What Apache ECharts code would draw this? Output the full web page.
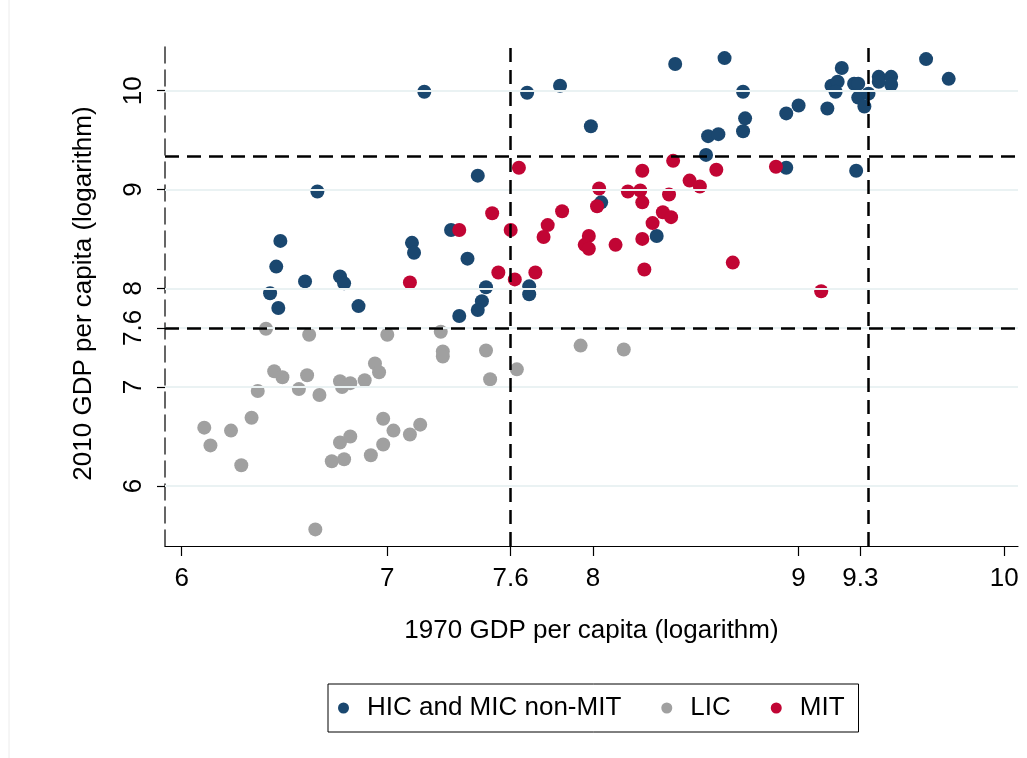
<!DOCTYPE html>
<html>
<head>
<meta charset="utf-8">
<script src="https://cdn.jsdelivr.net/npm/echarts@6/dist/echarts.min.js"></script>
<style>
  html, body { margin: 0; padding: 0; background: #fff; }
  #chart { width: 1027px; height: 758px; }
</style>
</head>
<body>
<div id="chart"></div>
<script>
// [1970 log GDP pc, 2010 log GDP pc]
var hicPoints = [
  [7.18, 9.99], [6.66, 8.98], [7.31, 8.59], [6.48, 8.48], [7.12, 8.46], [7.13, 8.36],
  [6.46, 8.22], [6.60, 8.07], [6.77, 8.12], [6.79, 8.05], [6.43, 7.95], [6.47, 7.80],
  [6.86, 7.82], [7.35, 7.72], [7.48, 8.01], [7.46, 7.87], [7.44, 7.78], [7.69, 8.02],
  [7.69, 7.94], [7.68, 9.98], [7.84, 10.05], [8.40, 10.27], [8.64, 10.33], [8.73, 9.99],
  [8.74, 9.72], [8.73, 9.59], [7.99, 9.64], [8.56, 9.54], [8.61, 9.56], [8.55, 9.35],
  [7.44, 9.14], [8.04, 8.87], [8.31, 8.53], [7.39, 8.30], [8.94, 9.77], [9.00, 9.85],
  [9.14, 9.82], [9.21, 10.23], [9.16, 10.05], [9.19, 10.09], [9.18, 9.99], [9.27, 10.07],
  [9.29, 10.07], [9.29, 9.93], [9.34, 9.97], [9.32, 9.84], [9.39, 10.14], [9.39, 10.09],
  [9.45, 10.14], [9.45, 10.06], [9.62, 10.32], [9.73, 10.12], [8.94, 9.22], [9.28, 9.19]
];
var licPoints = [
  [6.41, 7.59], [6.62, 7.53], [7.00, 7.53], [7.26, 7.56], [7.27, 7.36], [7.27, 7.31],
  [6.45, 7.16], [6.49, 7.10], [6.61, 7.12], [6.57, 6.98], [6.37, 6.96], [6.67, 6.92],
  [6.77, 7.06], [6.78, 7.00], [6.82, 7.04], [6.89, 7.07], [6.94, 7.24], [6.96, 7.15],
  [6.11, 6.59], [6.14, 6.41], [6.24, 6.56], [6.34, 6.69], [6.29, 6.21], [6.77, 6.44],
  [6.82, 6.50], [6.73, 6.25], [6.79, 6.27], [6.92, 6.31], [6.98, 6.68], [7.03, 6.56],
  [6.98, 6.42], [7.11, 6.52], [7.16, 6.62], [6.65, 5.56], [7.48, 7.37], [7.50, 7.08],
  [7.63, 7.18], [7.94, 7.42], [8.15, 7.38]
];
var mitPoints = [
  [7.35, 8.59], [7.11, 8.06], [7.64, 9.22], [8.24, 9.19], [8.39, 9.29], [8.60, 9.20],
  [8.47, 9.09], [8.52, 9.03], [8.03, 9.01], [8.17, 8.98], [8.23, 8.99], [8.37, 8.95],
  [8.24, 8.87], [8.02, 8.83], [7.51, 8.76], [7.85, 8.78], [8.34, 8.77], [8.38, 8.72],
  [7.78, 8.64], [7.76, 8.52], [7.60, 8.59], [8.29, 8.66], [8.24, 8.50], [7.98, 8.53],
  [7.96, 8.44], [7.98, 8.40], [8.11, 8.44], [7.54, 8.16], [7.72, 8.16], [7.62, 8.09],
  [8.25, 8.19], [8.68, 8.26], [8.89, 9.23], [9.11, 7.97]
];

var seriesNames = ['HIC and MIC non-MIT', 'LIC', 'MIT'];
var xTicks = [6, 7, 7.6, 8, 9, 9.3, 10];
var yTicks = [6, 7, 7.6, 8, 9, 10];
var gridLines = [6, 7, 7.6, 8, 9, 10];
var xCutoffs = [7.6, 9.335];
var yCutoffs = [7.6, 9.335];

var font = '"Liberation Sans", Arial, sans-serif';
var chart = echarts.init(document.getElementById('chart'));

var dashed = { color: '#000', width: 2.5, type: [14, 8] };

var option = {
  backgroundColor: '#fff',
  animation: false,
  textStyle: { fontFamily: font },
  graphic: [{
    type: 'rect',
    shape: { x: 9, y: -2, width: 1040, height: 762 },
    style: { fill: null, stroke: '#ececec', lineWidth: 1 },
    silent: true
  }],
  grid: { left: 165, top: 41, right: 9, bottom: 212 },
  xAxis: {
    type: 'value',
    min: 5.919,
    max: 10.067,
    name: '1970 GDP per capita (logarithm)',
    nameLocation: 'middle',
    nameGap: 72,
    nameTextStyle: { fontSize: 26, color: '#000', fontFamily: font },
    axisLine: { lineStyle: { color: '#000', width: 1.2 } },
    axisTick: { show: true, length: 10, customValues: xTicks, lineStyle: { color: '#000', width: 1.2 } },
    axisLabel: { customValues: xTicks, fontSize: 26, color: '#000', margin: 20, fontFamily: font },
    splitLine: { show: false }
  },
  yAxis: {
    type: 'value',
    min: 5.392,
    max: 10.503,
    name: '2010 GDP per capita (logarithm)',
    nameLocation: 'middle',
    nameGap: 68,
    nameTextStyle: { fontSize: 26, color: '#000', fontFamily: font },
    axisLine: { show: true, lineStyle: { color: '#333', width: 1.5, type: [16, 7] } },
    axisTick: { show: true, length: 8, customValues: yTicks, lineStyle: { color: '#000', width: 1.2 } },
    axisLabel: { customValues: yTicks, rotate: 90, fontSize: 26, color: '#000', margin: 18, fontFamily: font },
    splitLine: { show: false }
  },
  legend: {
    data: seriesNames,
    left: 328,
    top: 684,
    orient: 'horizontal',
    icon: 'circle',
    itemWidth: 11,
    itemHeight: 11,
    itemGap: 40,
    padding: [11, 14, 11, 10],
    borderColor: '#000',
    borderWidth: 1,
    borderRadius: 0,
    textStyle: { fontSize: 26, color: '#000', fontFamily: font, padding: [0, 0, 0, 13] }
  },
  series: [
    {
      name: 'lines',
      type: 'scatter',
      data: [],
      z: 1,
      silent: true,
      markLine: {
        silent: true,
        symbol: 'none',
        label: { show: false },
        animation: false,
        data: gridLines.map(function (v) {
          return { yAxis: v, lineStyle: { color: '#eaf2f3', width: 2, type: 'solid' } };
        })
      }
    },
    {
      name: 'cutoffs',
      type: 'scatter',
      data: [],
      z: 2,
      silent: true,
      markLine: {
        silent: true,
        symbol: 'none',
        label: { show: false },
        animation: false,
        data: xCutoffs.map(function (v) { return { xAxis: v, lineStyle: dashed }; })
          .concat(yCutoffs.map(function (v) { return { yAxis: v, lineStyle: dashed }; }))
      }
    },
    {
      name: seriesNames[0],
      type: 'scatter',
      z: 3,
      symbolSize: 14,
      itemStyle: { color: '#1a476f', opacity: 1 },
      data: hicPoints
    },
    {
      name: seriesNames[1],
      type: 'scatter',
      z: 3,
      symbolSize: 14,
      itemStyle: { color: '#a0a0a0', opacity: 1 },
      data: licPoints
    },
    {
      name: seriesNames[2],
      type: 'scatter',
      z: 3,
      symbolSize: 14,
      itemStyle: { color: '#c10534', opacity: 1 },
      data: mitPoints
    }
  ]
};

chart.setOption(option);
</script>
</body>
</html>
